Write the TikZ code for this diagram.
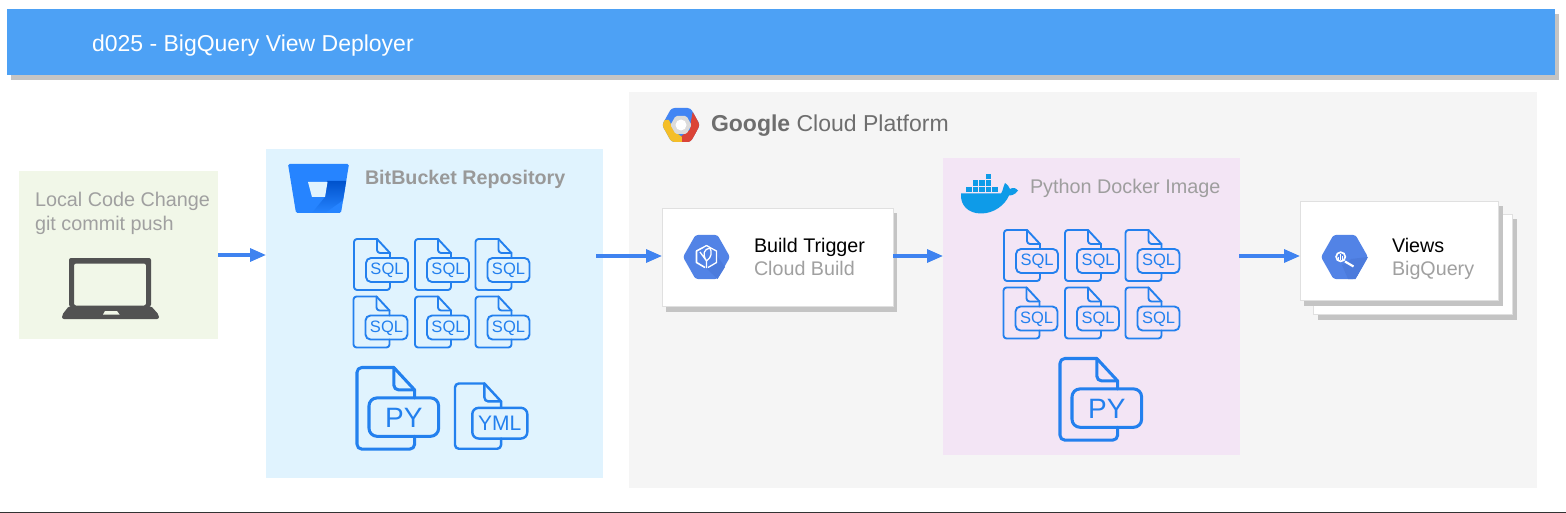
\documentclass[tikz,border=0pt]{standalone}
\usepackage{fontspec}
\setmainfont{Liberation Sans}
\usetikzlibrary{arrows.meta,shadows,shadings,calc}
\definecolor{hdr}{HTML}{4DA1F5}
\definecolor{shd}{HTML}{C4C4C4}
\definecolor{iconblue}{HTML}{2380EE}
\definecolor{hexblue}{HTML}{5283E6}
\definecolor{hexdark}{HTML}{4C7BDC}
\definecolor{arrowblue}{HTML}{3F83F0}
\definecolor{labelgray}{HTML}{A0A0A0}
\definecolor{localbg}{HTML}{F1F7E8}
\definecolor{repobg}{HTML}{E0F3FE}
\definecolor{imagebg}{HTML}{F3E5F5}
\definecolor{bbblue}{HTML}{2684FF}
\definecolor{bbdark}{HTML}{0052CC}
\definecolor{bbmid}{HTML}{1F72EA}
\definecolor{gblue}{HTML}{4285F4}
\definecolor{gred}{HTML}{DB4437}
\definecolor{gyellow}{HTML}{F4BE28}
\definecolor{dockerblue}{HTML}{0E9BE8}
\tikzset{
  panel/.style={anchor=north west,inner sep=0pt,outer sep=0pt},
  card/.style={panel,fill=white,draw=black!12,line width=0.8pt,
    general shadow={fill=shd,shadow xshift=4pt,shadow yshift=-5.5pt}},
  flow/.style={draw=arrowblue,line width=3.2pt,-{Triangle[length=16pt,width=13pt]}},
  lbl/.style={anchor=base west,inner sep=0pt,outer sep=0pt},
  titletext/.style={lbl,text=white,font=\fontsize{23}{26}\selectfont},
  bodytext/.style={lbl,font=\fontsize{19.8}{24}\selectfont},
  graytext/.style={bodytext,text=labelgray},
}
% name, x, y, scale, label, fontsize, badge left, badge right
\newcommand{\fileicon}[8]{%
  \begin{scope}[shift={(#2,#3)},scale=#4,draw=iconblue,line width=#4*1.9pt,line join=round,line cap=round]
    \draw (23,0) -- (3,0) to[out=180,in=90] (0,3) -- (0,48) to[out=-90,in=180] (3,51) -- (33,51) to[out=0,in=-90] (36,48) -- (36,43);
    \draw (23,0) -- (36,14) -- (36,19);
    \draw (23,0) -- (23,11) to[out=-90,in=180] (26,14) -- (36,14);
    \draw[rounded corners=#4*5pt] (#7,19) rectangle (#8,43);
    \node[text=iconblue,inner sep=0pt,font=\fontsize{#6}{#6}\selectfont] (#1) at ({(#7+#8)/2},31.3) {#5};
  \end{scope}}
\newcommand{\hexbase}[2]{%
  \begin{scope}[shift={(#1,#2)}]
    \fill[hexblue,rounded corners=2.5pt] (-23.5,0) -- (-11,-22) -- (11,-22) -- (23.5,0) -- (11,22) -- (-11,22) -- cycle;
  \end{scope}}
\begin{document}
\begin{tikzpicture}[x=1pt,y=-1pt]
\useasboundingbox (0,0) rectangle (1566,513);
\fill[white] (0,0) rectangle (1566,513);
\draw[black!80,line width=1pt] (0,512.5) -- (1566,512.5);

% header
\node[panel,fill=hdr,minimum width=1548pt,minimum height=65.5pt,
  general shadow={fill=shd,shadow xshift=3.5pt,shadow yshift=-5pt}] (header) at (7,9.5) {};
\node[titletext] (title) at (92,51.5) {d025 - BigQuery View Deployer};

% panels
\node[panel,fill=black!4,minimum width=908pt,minimum height=396pt] (gcp) at (629,92) {};
\node[panel,fill=localbg,minimum width=199pt,minimum height=168pt] (local) at (19,171) {};
\node[panel,fill=repobg,minimum width=337pt,minimum height=329pt] (repo) at (266,149) {};
\node[panel,fill=imagebg,minimum width=297pt,minimum height=297pt] (image) at (943,158) {};

% local
\node[graytext] (localA) at (35,207) {Local Code Change};
\node[graytext] (localB) at (35,230) {git commit push};
\fill[black!68,rounded corners=2pt,even odd rule] (69,306.5) -- (69,258) -- (151,258) -- (151,306.5) -- cycle
   (74,263.5) rectangle (146,305.5);
\fill[black!68,rounded corners=2pt] (69,306) -- (151,306) -- (159,315) -- (159,319) -- (62,319) -- (62,315) -- cycle;
\fill[localbg] (103,314.5) -- (105,311) -- (117,311) -- (119.5,314.5) -- cycle;

% bitbucket
\fill[rounded corners=1.5pt,bbblue] (288,164) -- (349,164) -- (341,213) -- (296,213) -- cycle;
\begin{scope}
  \clip[rounded corners=1.5pt] (288,164) -- (349,164) -- (341,213) -- (296,213) -- cycle;
  \shade[top color=bbdark,bottom color=bbblue]
     (325,197) -- (327,181) -- (349,181) -- (349,196) -- (325,213) -- (312,213) -- cycle;
\end{scope}
\fill[repobg] (308,182) -- (327.5,182) -- (325,197) -- (312,197) -- cycle;
\node[lbl,text=black!40,font=\bfseries\fontsize{19.7}{24}\selectfont] (repoTitle) at (365,184.5) {BitBucket Repository};

\fileicon{r1}{354}{239}{1}{SQL}{16.5}{12}{54}
\fileicon{r2}{415}{239}{1}{SQL}{16.5}{12}{54}
\fileicon{r3}{475.5}{239}{1}{SQL}{16.5}{12}{54}
\fileicon{r4}{353.5}{296.5}{1}{SQL}{16.5}{12}{54}
\fileicon{r5}{415}{296.5}{1}{SQL}{16.5}{12}{54}
\fileicon{r6}{475.5}{296.5}{1}{SQL}{16.5}{12}{54}
\fileicon{rpy}{357}{367.5}{1.6}{PY}{28}{7.5}{51}
\fileicon{ryml}{455}{383.5}{1.28}{YML}{21}{13.5}{56.5}

% gcp title
\begin{scope}
  \clip[rounded corners=3pt] (662,125) -- (671.5,108) -- (690.5,108) -- (700,125) -- (690.5,142) -- (671.5,142) -- cycle;
  \fill[gblue] (655,100) rectangle (705,150);
  \fill[gred] (695,100) -- (705,100) -- (705,150) -- (680,150) -- (680,137) -- (690,130) -- (691,121) -- cycle;
  \fill[gyellow] (655,120) -- (669,120) -- (674,131) -- (682,137) -- (682,150) -- (655,150) -- cycle;
  \fill[gred] (682,137) -- (690,130) -- (700,130) -- (700,150) -- (682,150) -- cycle;
\end{scope}
\fill[black!14,rounded corners=1.5pt] (670.5,125) -- (675.5,116) -- (686.5,116) -- (691.5,125) -- (686.5,134) -- (675.5,134) -- cycle;
\fill[white] (681,125) circle (5.5pt);
\node[lbl,text=black!57,font=\fontsize{23}{26}\selectfont] (gcpTitle) at (711,131.5) {\textbf{Google} Cloud Platform};

% build card
\node[card,minimum width=231pt,minimum height=98pt] (build) at (662,208) {};
\hexbase{706.5}{257}
\fill[hexdark] (710,246) -- (717,250) -- (717,263) -- (707,269) -- (717.5,279) -- (725,267) -- cycle;
\begin{scope}[draw=white,line width=1.3pt,line join=round]
  \fill[hexblue] (706.5,245.5) -- (716.5,251) -- (716.5,262.5) -- (706.5,268.5) -- (696.5,262.5) -- (696.5,251) -- cycle;
  \draw[line width=1.6pt] (703,247.5) -- (696.5,251) -- (696.5,262.5) -- (705,267.5);
  \draw (710,247.5) -- (716.5,251) -- (716.5,262.5) -- (708,267.5);
  \draw (706.5,245.5) -- (703,247.5) (706.5,245.5) -- (710,247.5);
  \draw (706.5,268) -- (706.5,260) (700,252) -- (706.5,261) (706.5,261) .. controls (712,257) and (712,252) .. (710,248) .. controls (704,249) and (702,254) .. (706.5,261);
\end{scope}
\node[lbl,text=black,font=\fontsize{19.7}{24}\selectfont] (buildA) at (754,252.5) {Build Trigger};
\node[graytext,font=\fontsize{19.7}{24}\selectfont] (buildB) at (754,275.5) {Cloud Build};

% docker
\fill[dockerblue] (961,193.5) -- (1001,193.5) .. controls (1003,191) and (1003,187) .. (1005,183) .. controls (1008,185) and (1009,187) .. (1010,189) .. controls (1013,187) and (1016,188) .. (1018,190.5) .. controls (1015,195) and (1011,195.5) .. (1009,195.5) .. controls (1005,205) and (994,213.5) .. (981,213.5) .. controls (968,213.5) and (960,205) .. (961,193.5) -- cycle;
\foreach \xx in {966,972.5,979,985.5,992}{\fill[dockerblue] (\xx,186.7) rectangle ++(5.5,5.5);}
\foreach \xx in {972.5,979,985.5}{\fill[dockerblue] (\xx,180.2) rectangle ++(5.5,5.5);}
\fill[dockerblue] (985.5,173.8) rectangle ++(5.5,5.5);
\node[graytext,text=black!38] (imageTitle) at (1030,194) {Python Docker Image};

\fileicon{i1}{1004}{230}{1}{SQL}{16.5}{12}{54}
\fileicon{i2}{1065}{230}{1}{SQL}{16.5}{12}{54}
\fileicon{i3}{1125.5}{230}{1}{SQL}{16.5}{12}{54}
\fileicon{i4}{1003.5}{287.5}{1}{SQL}{16.5}{12}{54}
\fileicon{i5}{1065}{287.5}{1}{SQL}{16.5}{12}{54}
\fileicon{i6}{1125.5}{287.5}{1}{SQL}{16.5}{12}{54}
\fileicon{ipy}{1060}{358.5}{1.6}{PY}{28}{7.5}{51}

% views cards
\node[card,minimum width=199pt,minimum height=100pt] (viewsBack) at (1313.5,214) {};
\node[card,minimum width=198.5pt,minimum height=99pt] (views) at (1300,201) {};
\hexbase{1344.5}{257}
\fill[hexdark] (1347,263) -- (1351,259) -- (1368,257) -- (1355.5,279) -- (1348,279) -- (1342,265) -- cycle;
\draw[white,line width=1.7pt] (1340.7,256.8) circle (4.6pt);
\draw[white,line width=2.2pt] (1345,261.5) -- (1353.5,266.5);
\draw[white,line width=1.1pt] (1338.8,259.5) -- (1338.8,257) (1340.8,259.5) -- (1340.8,254) (1342.8,259.5) -- (1342.8,256);
\node[lbl,text=black,font=\fontsize{19.7}{24}\selectfont] (viewsA) at (1392,252.5) {Views};
\node[graytext,font=\fontsize{19.7}{24}\selectfont] (viewsB) at (1392,275.5) {BigQuery};

% connectors
\coordinate (repoOut) at (596,256);
\coordinate (imageOut) at (1239,256);
\coordinate (buildOut) at (893,256);
\draw[flow] (local.east) -- (local.east -| repo.west);
\draw[flow] (repoOut) -- (repoOut -| build.west);
\draw[flow] (buildOut) -- (buildOut -| image.west);
\draw[flow] (imageOut) -- (imageOut -| views.west);
\end{tikzpicture}
\end{document}
